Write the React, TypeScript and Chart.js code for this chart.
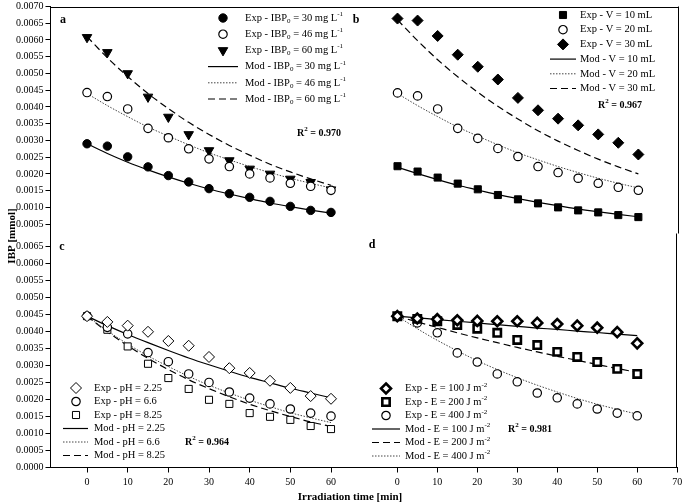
import React, { useEffect, useRef } from 'react';
import { Chart, registerables } from 'chart.js';

Chart.register(...registerables);

const FONT = '"Liberation Serif", "Times New Roman", serif';

// ---------- data ----------
const TIME = [0, 5, 10, 15, 20, 25, 30, 35, 40, 45, 50, 55, 60];

const X_TICKS_LEFT = [0, 10, 20, 30, 40, 50, 60];
const X_TICKS_RIGHT = [0, 10, 20, 30, 40, 50, 60, 70];
const Y_TICKS_TOP = [0.0005, 0.001, 0.0015, 0.002, 0.0025, 0.003, 0.0035, 0.004, 0.0045, 0.005, 0.0055, 0.006, 0.0065, 0.007];
const Y_TICKS_BOTTOM = [0, 0.0005, 0.001, 0.0015, 0.002, 0.0025, 0.003, 0.0035, 0.004, 0.0045, 0.005, 0.0055, 0.006, 0.0065];

// panel a (IBP0)
const A_EXP_30 = [0.0029, 0.00283, 0.00251, 0.00221, 0.00195, 0.00176, 0.00156, 0.00141, 0.0013, 0.00118, 0.00103, 0.00091, 0.00085];
const A_EXP_46 = [0.00443, 0.00431, 0.00394, 0.00336, 0.00308, 0.00275, 0.00245, 0.00222, 0.002, 0.00188, 0.00172, 0.00163, 0.00151];
const A_EXP_60 = [0.00608, 0.00563, 0.005, 0.0043, 0.0037, 0.00318, 0.0027, 0.0024, 0.00215, 0.002, 0.00185, 0.00175, 0.00153];
const A_MOD_30 = [0.0029, 0.00261, 0.00235, 0.00212, 0.00191, 0.00172, 0.00155, 0.0014, 0.00126, 0.00113, 0.00102, 0.00092, 0.00083];
const A_MOD_46 = [0.0044, 0.00404, 0.00371, 0.0034, 0.00313, 0.00287, 0.00263, 0.00242, 0.00222, 0.00204, 0.00187, 0.00172, 0.00158];
const A_MOD_60 = [0.0061, 0.00547, 0.00491, 0.0044, 0.00395, 0.00354, 0.00318, 0.00285, 0.00256, 0.00229, 0.00206, 0.00185, 0.00166];

// panel b (V)
const B_EXP_10 = [0.00223, 0.00207, 0.00189, 0.00171, 0.00154, 0.00137, 0.00124, 0.00112, 0.001, 0.00091, 0.00085, 0.00077, 0.00071];
const B_EXP_20 = [0.00442, 0.00433, 0.00394, 0.00336, 0.00306, 0.00276, 0.00252, 0.00222, 0.00204, 0.00187, 0.00172, 0.0016, 0.00151];
const B_EXP_30 = [0.00664, 0.00658, 0.00612, 0.00556, 0.0052, 0.00482, 0.00427, 0.0039, 0.00365, 0.00345, 0.00318, 0.00293, 0.00258];
const B_MOD_10 = [0.0022, 0.00201, 0.00183, 0.00166, 0.00152, 0.00138, 0.00126, 0.00115, 0.00105, 0.00095, 0.00087, 0.00079, 0.00072];
const B_MOD_20 = [0.0044, 0.00404, 0.00371, 0.0034, 0.00313, 0.00287, 0.00263, 0.00242, 0.00222, 0.00204, 0.00187, 0.00172, 0.00158];
const B_MOD_30 = [0.0066, 0.00598, 0.00541, 0.0049, 0.00444, 0.00402, 0.00364, 0.00329, 0.00298, 0.0027, 0.00244, 0.00221, 0.002];

// panel c (pH)
const C_EXP_225 = [0.00445, 0.00428, 0.00417, 0.00399, 0.00372, 0.00358, 0.00325, 0.00292, 0.00278, 0.00255, 0.00234, 0.0021, 0.00202];
const C_EXP_66 = [0.00445, 0.00412, 0.00393, 0.00338, 0.00311, 0.00275, 0.0025, 0.00222, 0.00204, 0.00187, 0.00172, 0.0016, 0.00151];
const C_EXP_825 = [0.00445, 0.00405, 0.00356, 0.00305, 0.00263, 0.00231, 0.00199, 0.00187, 0.0016, 0.00149, 0.0014, 0.00122, 0.00113];
const C_MOD_225 = [0.00445, 0.00417, 0.00391, 0.00367, 0.00344, 0.00322, 0.00302, 0.00283, 0.00265, 0.00249, 0.00233, 0.00219, 0.00205];
const C_MOD_66 = [0.00445, 0.00402, 0.00363, 0.00328, 0.00297, 0.00268, 0.00242, 0.00219, 0.00198, 0.00179, 0.00161, 0.00146, 0.00132];
const C_MOD_825 = [0.00445, 0.00399, 0.00358, 0.00321, 0.00288, 0.00258, 0.00232, 0.00208, 0.00186, 0.00167, 0.0015, 0.00134, 0.00121];

// panel d (E)
const D_EXP_100 = [0.00445, 0.00438, 0.00436, 0.00433, 0.00431, 0.0043, 0.0043, 0.00425, 0.00422, 0.00417, 0.00411, 0.00398, 0.00365];
const D_EXP_200 = [0.00445, 0.00437, 0.0043, 0.00419, 0.00408, 0.00396, 0.00375, 0.0036, 0.0034, 0.00325, 0.0031, 0.0029, 0.00275];
const D_EXP_400 = [0.00445, 0.00425, 0.00396, 0.00337, 0.0031, 0.00275, 0.00252, 0.00219, 0.00205, 0.00187, 0.00172, 0.0016, 0.00152];
const D_MOD_100 = [0.00445, 0.0044, 0.00435, 0.0043, 0.00425, 0.0042, 0.00415, 0.0041, 0.00406, 0.00401, 0.00397, 0.00392, 0.00388];
const D_MOD_200 = [0.00445, 0.00428, 0.00412, 0.00396, 0.00381, 0.00367, 0.00353, 0.0034, 0.00327, 0.00315, 0.00303, 0.00291, 0.0028];
const D_MOD_400 = [0.00445, 0.00408, 0.00374, 0.00343, 0.00314, 0.00288, 0.00264, 0.00242, 0.00222, 0.00203, 0.00186, 0.00171, 0.00157];

// ---------- types ----------
type Seg = { t: string; sub?: boolean; sup?: boolean };
type Spec =
  | { kind: 'exp'; label: Seg[]; values: number[]; style: string; r: number; fill: string; bw: number; rot?: number }
  | { kind: 'mod'; label: Seg[]; values: number[]; dash: number[]; color: string; width: number };
type TextSpec = { segs: Seg[]; x: number; y: number; size: number; bold?: boolean; align?: 'left' | 'center' | 'right'; rotate?: number };
type Panel = {
  id: string;
  padding: { left: number; top: number; right: number; bottom: number };
  xMin: number; xMax: number; xShow: boolean; xTicks: number[];
  yMin: number; yMax: number; yShow: boolean; yTicks: number[];
  frame: string[];
  specs: Spec[];
  legend: { mx: number; l1: number; l2: number; tx: number; y0: number; dy: number; size: number };
  texts: TextSpec[];
};

const SOLID: number[] = [];
const DOTTED = [1.5, 1.5];
const DASHED = [7, 4];

const ibp = (v: string, kind: string): Seg[] => [{ t: kind + ' - IBP' }, { t: '0', sub: true }, { t: ' = ' + v + ' mg L' }, { t: '-1', sup: true }];
const em = (v: string, kind: string): Seg[] => [{ t: kind + ' - E = ' + v + ' J m' }, { t: '-2', sup: true }];
const plain = (s: string): Seg[] => [{ t: s }];
const r2 = (v: string): Seg[] => [{ t: 'R' }, { t: '2', sup: true }, { t: ' = ' + v }];

const PANELS: Panel[] = [
  {
    id: 'a',
    padding: { left: 0, top: 5, right: 342, bottom: 270.5 },
    xMin: -8.98, xMax: 62.95, xShow: false, xTicks: X_TICKS_LEFT,
    yMin: 0.00022, yMax: 0.007, yShow: true, yTicks: Y_TICKS_TOP,
    frame: ['top'],
    specs: [
      { kind: 'exp', label: ibp('30', 'Exp'), values: A_EXP_30, style: 'circle', r: 4.2, fill: '#000', bw: 1 },
      { kind: 'exp', label: ibp('46', 'Exp'), values: A_EXP_46, style: 'circle', r: 4.2, fill: '#fff', bw: 1.2 },
      { kind: 'exp', label: ibp('60', 'Exp'), values: A_EXP_60, style: 'triangle', r: 5.5, fill: '#000', bw: 1, rot: 180 },
      { kind: 'mod', label: ibp('30', 'Mod'), values: A_MOD_30, dash: SOLID, color: '#000', width: 1.2 },
      { kind: 'mod', label: ibp('46', 'Mod'), values: A_MOD_46, dash: DOTTED, color: '#444', width: 1 },
      { kind: 'mod', label: ibp('60', 'Mod'), values: A_MOD_60, dash: DASHED, color: '#000', width: 1.2 },
    ],
    legend: { mx: 223, l1: 208, l2: 238, tx: 245, y0: 18, dy: 16.2, size: 10.5 },
    texts: [
      { segs: plain('a'), x: 63, y: 20, size: 12, bold: true, align: 'center' },
      { segs: r2('0.970'), x: 297, y: 133, size: 10, bold: true },
    ],
  },
  {
    id: 'b',
    padding: { left: 343, top: 5, right: 3.5, bottom: 270.5 },
    xMin: -13.58, xMax: 70, xShow: false, xTicks: X_TICKS_RIGHT,
    yMin: 0.00022, yMax: 0.007, yShow: false, yTicks: Y_TICKS_TOP,
    frame: ['top', 'right'],
    specs: [
      { kind: 'exp', label: plain('Exp - V = 10 mL'), values: B_EXP_10, style: 'rect', r: 5, fill: '#000', bw: 1 },
      { kind: 'exp', label: plain('Exp - V = 20 mL'), values: B_EXP_20, style: 'circle', r: 4.2, fill: '#fff', bw: 1.2 },
      { kind: 'exp', label: plain('Exp - V = 30 mL'), values: B_EXP_30, style: 'rectRot', r: 5.5, fill: '#000', bw: 1 },
      { kind: 'mod', label: plain('Mod - V = 10 mL'), values: B_MOD_10, dash: SOLID, color: '#000', width: 1.2 },
      { kind: 'mod', label: plain('Mod - V = 20 mL'), values: B_MOD_20, dash: DOTTED, color: '#444', width: 1 },
      { kind: 'mod', label: plain('Mod - V = 30 mL'), values: B_MOD_30, dash: DASHED, color: '#000', width: 1.2 },
    ],
    legend: { mx: 563, l1: 550, l2: 576, tx: 580, y0: 15, dy: 14.7, size: 10.5 },
    texts: [
      { segs: plain('b'), x: 356, y: 20, size: 12, bold: true, align: 'center' },
      { segs: r2('0.967'), x: 598, y: 105, size: 10, bold: true },
    ],
  },
  {
    id: 'c',
    padding: { left: 0, top: 233.5, right: 342, bottom: 0 },
    xMin: -8.98, xMax: 62.95, xShow: true, xTicks: X_TICKS_LEFT,
    yMin: 0, yMax: 0.00688, yShow: true, yTicks: Y_TICKS_BOTTOM,
    frame: [],
    specs: [
      { kind: 'exp', label: plain('Exp - pH = 2.25'), values: C_EXP_225, style: 'rectRot', r: 5.5, fill: '#fff', bw: 1 },
      { kind: 'exp', label: plain('Exp - pH = 6.6'), values: C_EXP_66, style: 'circle', r: 4.2, fill: '#fff', bw: 1.2 },
      { kind: 'exp', label: plain('Exp - pH = 8.25'), values: C_EXP_825, style: 'rect', r: 5, fill: '#fff', bw: 1 },
      { kind: 'mod', label: plain('Mod - pH = 2.25'), values: C_MOD_225, dash: SOLID, color: '#000', width: 1.2 },
      { kind: 'mod', label: plain('Mod - pH = 6.6'), values: C_MOD_66, dash: DOTTED, color: '#444', width: 1 },
      { kind: 'mod', label: plain('Mod - pH = 8.25'), values: C_MOD_825, dash: DASHED, color: '#000', width: 1.2 },
    ],
    legend: { mx: 76, l1: 63, l2: 88, tx: 94, y0: 388, dy: 13.5, size: 10.5 },
    texts: [
      { segs: plain('c'), x: 62, y: 247, size: 12, bold: true, align: 'center' },
      { segs: r2('0.964'), x: 185, y: 442, size: 10, bold: true },
      { segs: plain('IBP [mmol]'), x: 12, y: 236, size: 11, bold: true, align: 'center', rotate: -90 },
      { segs: plain('Irradiation time [min]'), x: 350, y: 497, size: 11, bold: true, align: 'center' },
    ],
  },
  {
    id: 'd',
    padding: { left: 343, top: 233.5, right: 3.5, bottom: 0 },
    xMin: -13.58, xMax: 70, xShow: true, xTicks: X_TICKS_RIGHT,
    yMin: 0, yMax: 0.00688, yShow: false, yTicks: Y_TICKS_BOTTOM,
    frame: ['right'],
    specs: [
      { kind: 'exp', label: em('100', 'Exp'), values: D_EXP_100, style: 'rectRot', r: 5, fill: '#fff', bw: 2.6 },
      { kind: 'exp', label: em('200', 'Exp'), values: D_EXP_200, style: 'rect', r: 5.2, fill: '#fff', bw: 2.6 },
      { kind: 'exp', label: em('400', 'Exp'), values: D_EXP_400, style: 'circle', r: 4.2, fill: '#fff', bw: 1.2 },
      { kind: 'mod', label: em('100', 'Mod'), values: D_MOD_100, dash: SOLID, color: '#000', width: 1.2 },
      { kind: 'mod', label: em('200', 'Mod'), values: D_MOD_200, dash: DASHED, color: '#000', width: 1.2 },
      { kind: 'mod', label: em('400', 'Mod'), values: D_MOD_400, dash: DOTTED, color: '#444', width: 1 },
    ],
    legend: { mx: 386, l1: 372, l2: 400, tx: 405, y0: 388.5, dy: 13.5, size: 10.5 },
    texts: [
      { segs: plain('d'), x: 372, y: 245, size: 12, bold: true, align: 'center' },
      { segs: r2('0.981'), x: 508, y: 429, size: 10, bold: true },
    ],
  },
];

// ---------- drawing helpers ----------
function drawMarker(ctx: CanvasRenderingContext2D, style: string, x: number, y: number, r: number, fill: string, bw: number, rot: number) {
  ctx.save();
  ctx.translate(x, y);
  ctx.beginPath();
  if (style === 'circle') {
    ctx.arc(0, 0, r, 0, Math.PI * 2);
  } else if (style === 'rect') {
    const s = r * Math.SQRT1_2;
    ctx.rect(-s, -s, 2 * s, 2 * s);
  } else if (style === 'rectRot') {
    ctx.moveTo(0, -r); ctx.lineTo(r, 0); ctx.lineTo(0, r); ctx.lineTo(-r, 0); ctx.closePath();
  } else if (style === 'triangle') {
    let rad = (rot * Math.PI) / 180;
    ctx.moveTo(Math.sin(rad) * r, -Math.cos(rad) * r);
    rad += (2 * Math.PI) / 3;
    ctx.lineTo(Math.sin(rad) * r, -Math.cos(rad) * r);
    rad += (2 * Math.PI) / 3;
    ctx.lineTo(Math.sin(rad) * r, -Math.cos(rad) * r);
    ctx.closePath();
  }
  ctx.fillStyle = fill;
  ctx.fill();
  ctx.lineWidth = bw;
  ctx.strokeStyle = '#000';
  ctx.stroke();
  ctx.restore();
}

function drawSegs(ctx: CanvasRenderingContext2D, segs: Seg[], x: number, y: number, size: number, bold: boolean, align: string) {
  const fontFor = (s: Seg) => `${bold ? 'bold ' : ''}${s.sub || s.sup ? Math.round(size * 0.68) : size}px ${FONT}`;
  let w = 0;
  for (const s of segs) { ctx.font = fontFor(s); w += ctx.measureText(s.t).width; }
  let cx = align === 'center' ? x - w / 2 : align === 'right' ? x - w : x;
  ctx.fillStyle = '#000';
  ctx.textBaseline = 'middle';
  ctx.textAlign = 'left';
  for (const s of segs) {
    ctx.font = fontFor(s);
    const dy = s.sup ? -size * 0.36 : s.sub ? size * 0.28 : 0;
    ctx.fillText(s.t, cx, y + dy);
    cx += ctx.measureText(s.t).width;
  }
}

function makeDecor(p: Panel) {
  return {
    id: 'decor' + p.id,
    afterDraw(chart: any) {
      const ctx: CanvasRenderingContext2D = chart.ctx;
      const a = chart.chartArea;
      ctx.save();
      ctx.strokeStyle = '#000';
      ctx.lineWidth = 1;
      ctx.setLineDash([]);
      for (const side of p.frame) {
        ctx.beginPath();
        if (side === 'top') { ctx.moveTo(a.left, Math.round(a.top) + 0.5); ctx.lineTo(a.right, Math.round(a.top) + 0.5); }
        if (side === 'right') { ctx.moveTo(Math.round(a.right) - 0.5, a.top); ctx.lineTo(Math.round(a.right) - 0.5, a.bottom); }
        ctx.stroke();
      }
      // legend
      const L = p.legend;
      p.specs.forEach((s, i) => {
        const y = L.y0 + i * L.dy;
        if (s.kind === 'exp') {
          drawMarker(ctx, s.style, L.mx, y, s.r, s.fill, s.bw, s.rot || 0);
        } else {
          ctx.beginPath();
          ctx.setLineDash(s.dash);
          ctx.strokeStyle = s.color;
          ctx.lineWidth = s.width;
          ctx.moveTo(L.l1, y);
          ctx.lineTo(L.l2, y);
          ctx.stroke();
          ctx.setLineDash([]);
        }
        drawSegs(ctx, s.label, L.tx, y, L.size, false, 'left');
      });
      for (const t of p.texts) {
        if (t.rotate) {
          ctx.save();
          ctx.translate(t.x, t.y);
          ctx.rotate((t.rotate * Math.PI) / 180);
          drawSegs(ctx, t.segs, 0, 0, t.size, !!t.bold, t.align || 'left');
          ctx.restore();
        } else {
          drawSegs(ctx, t.segs, t.x, t.y, t.size, !!t.bold, t.align || 'left');
        }
      }
      ctx.restore();
    },
  };
}

function buildConfig(p: Panel): any {
  const tickFont = { family: FONT, size: 10 };
  const datasets = p.specs.map((s) => {
    const data = TIME.map((t, i) => ({ x: t, y: s.values[i] }));
    const text = s.label.map((g) => g.t).join('');
    if (s.kind === 'exp') {
      return {
        label: text, data, showLine: false, order: 0,
        pointStyle: s.style, pointRadius: s.r, pointHoverRadius: s.r,
        pointBackgroundColor: s.fill, pointBorderColor: '#000', pointBorderWidth: s.bw,
        pointRotation: s.rot || 0, borderColor: '#000',
      };
    }
    return {
      label: text, data, order: 1, showLine: true,
      borderColor: s.color, borderWidth: s.width, borderDash: s.dash,
      pointRadius: 0, pointHoverRadius: 0, fill: false,
      cubicInterpolationMode: 'monotone', tension: 0.4,
    };
  });
  const xScale: any = {
    type: 'linear',
    min: p.xMin,
    max: p.xMax,
    display: p.xShow,
    afterBuildTicks: (sc: any) => { sc.ticks = p.xTicks.map((v) => ({ value: v })); },
    ticks: { font: tickFont, color: '#000', padding: 4, maxRotation: 0, autoSkip: false, callback: (v: any) => String(v) },
    grid: { drawOnChartArea: false, drawTicks: true, tickLength: 5, color: '#000', lineWidth: 1 },
    border: { display: true, color: '#000', width: 1 },
  };
  if (p.xShow) {
    xScale.afterFit = (sc: any) => { sc.height = 36.5; sc.paddingLeft = 0; sc.paddingRight = 0; };
  }
  const yScale: any = {
    type: 'linear',
    min: p.yMin,
    max: p.yMax,
    display: p.yShow,
    afterBuildTicks: (sc: any) => { sc.ticks = p.yTicks.map((v) => ({ value: v })); },
    ticks: { font: tickFont, color: '#000', padding: 2, autoSkip: false, callback: (v: any) => Number(v).toFixed(4) },
    grid: { drawOnChartArea: false, drawTicks: true, tickLength: 5, color: '#000', lineWidth: 1 },
    border: { display: true, color: '#000', width: 1 },
  };
  if (p.yShow) {
    yScale.afterFit = (sc: any) => { sc.width = 50.5; sc.paddingTop = 0; sc.paddingBottom = 0; };
  }
  return {
    type: 'line',
    data: { datasets },
    plugins: [makeDecor(p)],
    options: {
      animation: false,
      responsive: false,
      maintainAspectRatio: false,
      devicePixelRatio: 1,
      events: [],
      layout: { padding: p.padding },
      plugins: { legend: { display: false }, tooltip: { enabled: false }, title: { display: false } },
      scales: { x: xScale, y: yScale },
    },
  };
}

export default function App() {
  const refs = useRef<(HTMLCanvasElement | null)[]>([]);
  useEffect(() => {
    const charts = PANELS.map((p, i) => new Chart(refs.current[i] as HTMLCanvasElement, buildConfig(p)));
    return () => charts.forEach((c) => c.destroy());
  }, []);
  return (
    <div style={{ position: 'absolute', left: 0, top: 0, width: 685, height: 504, background: '#fff' }}>
      {PANELS.map((p, i) => (
        <canvas
          key={p.id}
          ref={(el) => { refs.current[i] = el; }}
          width={685}
          height={504}
          style={{ position: 'absolute', left: 0, top: 0, width: 685, height: 504 }}
        />
      ))}
    </div>
  );
}
